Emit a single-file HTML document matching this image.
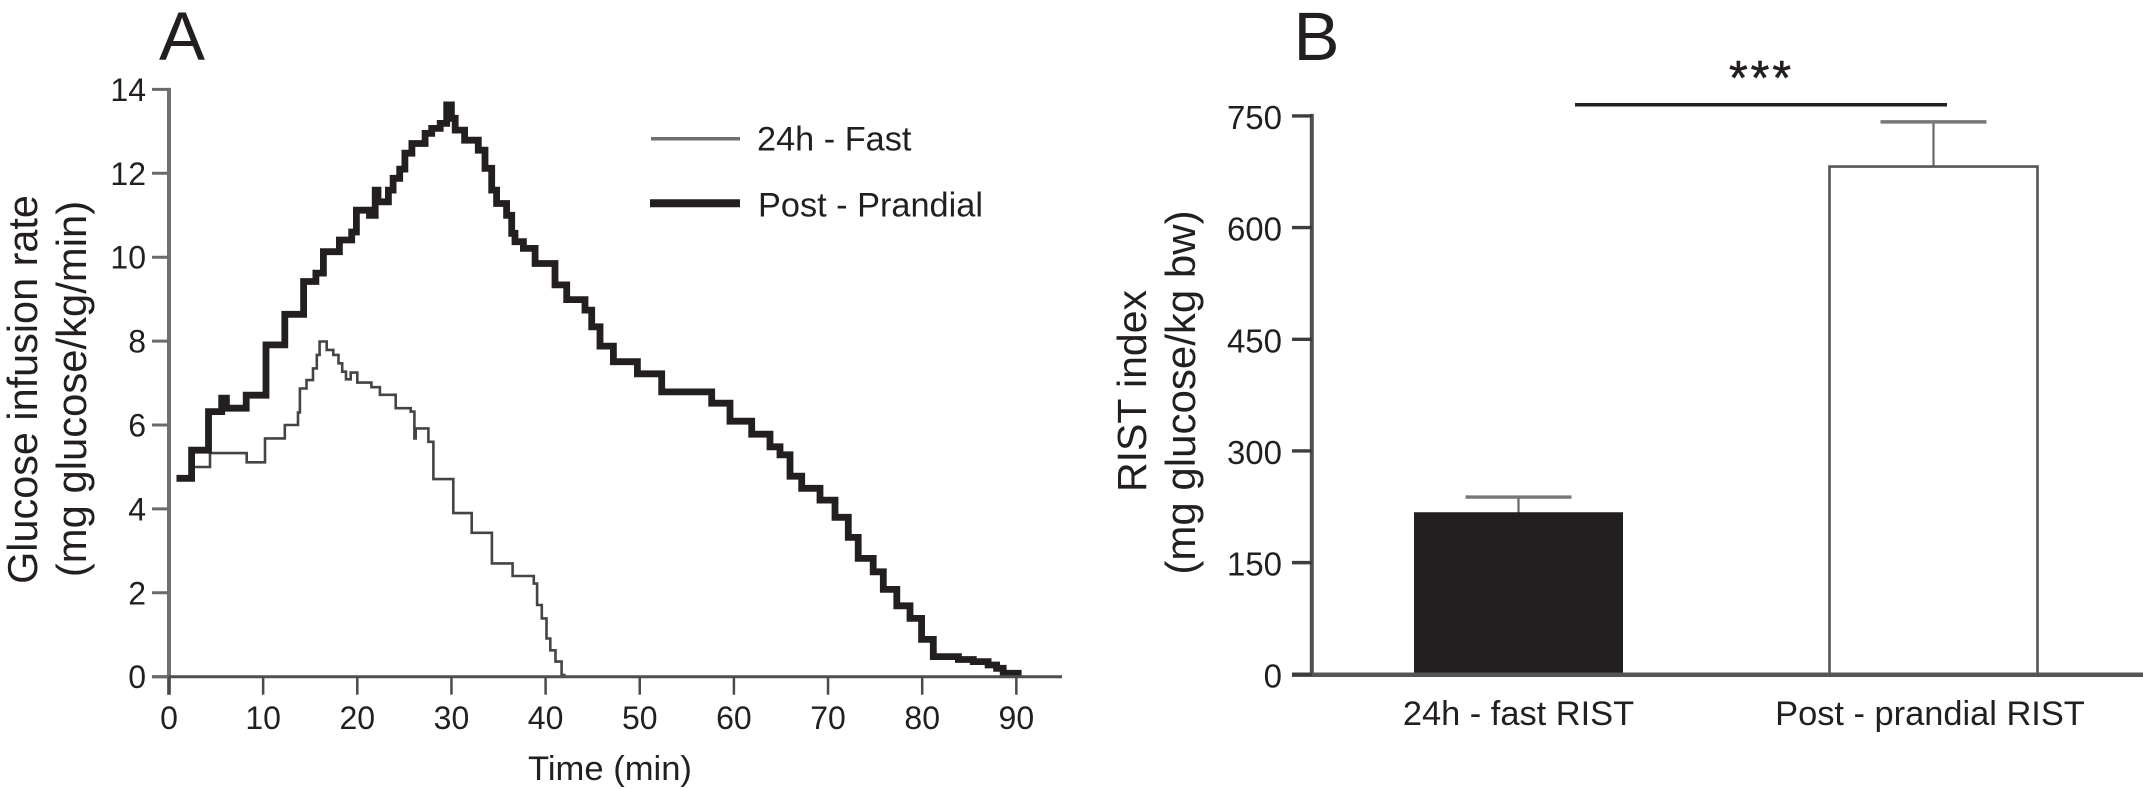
<!DOCTYPE html>
<html lang="en">
<head>
<meta charset="utf-8">
<title>Glucose infusion rate and RIST index</title>
<style>
html,body{margin:0;padding:0;background:#fff;}
body{width:2143px;height:789px;overflow:hidden;}
svg{display:block;}
text{font-family:"Liberation Sans",Arial,sans-serif;fill:#231f20;}
</style>
</head>
<body>
<svg id="figure" xmlns="http://www.w3.org/2000/svg" width="2143" height="789" viewBox="0 0 2143 789">
  <rect x="0" y="0" width="2143" height="789" fill="#ffffff"/>
  <text x="159" y="60" font-size="69">A</text>
  <text x="1293.5" y="60" font-size="69">B</text>

  <text transform="translate(37,389.5) rotate(-90)" text-anchor="middle" font-size="41.4">Glucose infusion rate</text>
  <text transform="translate(86,389) rotate(-90)" text-anchor="middle" font-size="41.8">(mg glucose/kg/min)</text>
  <text x="610" y="780" text-anchor="middle" font-size="34.6">Time (min)</text>

  <line x1="651" y1="138.7" x2="740" y2="138.7" stroke="#6f6f6f" stroke-width="3.5"/>
  <text x="757" y="150.7" font-size="34.3">24h - Fast</text>
  <line x1="650" y1="203.3" x2="740" y2="203.3" stroke="#231f20" stroke-width="8"/>
  <text x="758" y="216.7" font-size="34.3">Post - Prandial</text>

  <text transform="translate(1146,391) rotate(-90)" text-anchor="middle" font-size="41">RIST index</text>
  <text transform="translate(1195,392.5) rotate(-90)" text-anchor="middle" font-size="42">(mg glucose/kg bw)</text>

  <line x1="1575" y1="104.7" x2="1947" y2="104.7" stroke="#231f20" stroke-width="3.5"/>
  <text x="1761.5" y="94" text-anchor="middle" font-size="48" letter-spacing="3" stroke="#231f20" stroke-width="0.6">***</text>

  <g id="panel-a"></g>
  <g id="panel-b"></g>
</svg>
<script>
var timeTicks = [0, 10, 20, 30, 40, 50, 60, 70, 80, 90];
var rateTicks = [0, 2, 4, 6, 8, 10, 12, 14];
var fastTimes = [0.8, 2.6, 4.35, 8.25, 10.2, 12.3, 13.7, 13.9, 14.6, 15.3, 15.7, 16.0, 16.75, 17.45, 18.0, 18.4, 18.8, 19.3, 20.0, 21.5, 22.4, 24.08, 25.67, 26.06, 26.2, 27.55, 28.08, 30.2, 32.15, 34.3, 36.5, 38.75, 39.1, 39.6, 40.1, 40.5, 41.05, 41.7, 42.0];
var fastRates = [4.7, 5.0, 5.33, 5.11, 5.68, 6.0, 6.3, 6.87, 7.07, 7.35, 7.67, 7.99, 7.79, 7.67, 7.47, 7.27, 7.09, 7.25, 7.01, 6.9, 6.72, 6.4, 6.32, 5.68, 5.92, 5.6, 4.71, 3.9, 3.43, 2.70, 2.40, 2.22, 1.71, 1.39, 0.91, 0.63, 0.36, 0.04, 0.0];
var prandialTimes = [0.8, 2.4, 4.2, 5.6, 6.1, 8.2, 10.3, 12.3, 14.3, 15.6, 16.4, 18.1, 19.4, 19.9, 21.3, 21.9, 22.2, 23.3, 23.8, 24.5, 25.06, 25.8, 27.2, 27.9, 28.8, 29.5, 30.0, 30.4, 31.4, 32.85, 33.56, 34.27, 34.8, 35.86, 36.4, 36.75, 37.64, 38.88, 41.0, 42.24, 44.19, 44.9, 45.78, 47.2, 49.75, 52.33, 57.64, 59.59, 61.89, 63.83, 64.9, 65.96, 67.2, 69.14, 70.74, 72.15, 73.2, 74.8, 75.87, 77.3, 78.7, 79.94, 81.18, 83.84, 85.43, 87.0, 87.9, 88.6, 90.2];
var prandialRates = [4.73, 5.40, 6.32, 6.64, 6.40, 6.71, 7.91, 8.64, 9.42, 9.62, 10.13, 10.41, 10.6, 11.12, 11.0, 11.6, 11.32, 11.6, 11.88, 12.1, 12.48, 12.71, 12.95, 13.07, 13.19, 13.63, 13.31, 13.03, 12.79, 12.55, 12.12, 11.6, 11.28, 11.0, 10.57, 10.37, 10.21, 9.85, 9.34, 8.99, 8.74, 8.34, 7.88, 7.51, 7.22, 6.79, 6.52, 6.09, 5.78, 5.48, 5.29, 4.78, 4.49, 4.21, 3.80, 3.32, 2.82, 2.50, 2.08, 1.69, 1.39, 0.89, 0.48, 0.41, 0.36, 0.28, 0.2, 0.08, 0.02];

var ristTicks = [0, 150, 300, 450, 600, 750];
var ristCategories = ["24h - fast RIST", "Post - prandial RIST"];
var ristValues = [217, 682];
var ristUpperErrors = [238, 742];

var SVGNS = 'http://www.w3.org/2000/svg';

function xA(t) { return 169 + 9.415 * t; }
function yA(v) { return 676.7 - 41.95 * v; }
function yB(v) { return 674.3 - 0.7445 * v; }
function xB(i) { return 1518.5 + 415 * i; }
function xBLabel(i) { return 1518.5 + 411.5 * i; }

function shape(parent, tag, props) {
  var el = document.createElementNS(SVGNS, tag);
  for (var k in props) { el.setAttribute(k, props[k]); }
  parent.appendChild(el);
  return el;
}
function stepPath(ts, vs) {
  var d = 'M' + xA(ts[0]).toFixed(1) + ' ' + yA(vs[0]).toFixed(1);
  for (var i = 1; i < ts.length; i++) {
    d += 'H' + xA(ts[i]).toFixed(1) + 'V' + yA(vs[i]).toFixed(1);
  }
  return d;
}

var panelA = document.getElementById('panel-a');
var panelB = document.getElementById('panel-b');

var fastLine = shape(panelA, 'path', {d: stepPath(fastTimes, fastRates), fill: 'none', stroke: '#444444', 'stroke-width': 2.6, 'stroke-linejoin': 'miter'});



var prandialLine = shape(panelA, 'path', {d: stepPath(prandialTimes, prandialRates), fill: 'none', stroke: '#231f20', 'stroke-width': 6.8, 'stroke-linejoin': 'miter'});



var yAxisA = shape(panelA, 'line', {x1: xA(0), y1: yA(14) - 1.5, x2: xA(0), y2: yA(0) + 18, stroke: '#707070', 'stroke-width': 4});



var xAxisA = shape(panelA, 'line', {x1: 152, y1: yA(0), x2: 1062, y2: yA(0), stroke: '#4f4f4f', 'stroke-width': 3});



rateTicks.forEach(function (v) {
  var tick = shape(panelA, 'line', {x1: 152, y1: yA(v), x2: xA(0), y2: yA(v), stroke: '#6a6a6a', 'stroke-width': 3});
  
  
  var label = shape(panelA, 'text', {x: 146, y: yA(v) + 11.5, 'text-anchor': 'end', 'font-size': 32});
  label.textContent = String(v);
  
  
});

timeTicks.forEach(function (t) {
  var tick = shape(panelA, 'line', {x1: xA(t), y1: yA(0), x2: xA(t), y2: yA(0) + 18, stroke: '#4a4a4a', 'stroke-width': 2.5});
  
  
  var label = shape(panelA, 'text', {x: xA(t), y: 729, 'text-anchor': 'middle', 'font-size': 32});
  label.textContent = String(t);
  
  
});

var barWidth = 208;
ristValues.forEach(function (v, i) {
  var stem = shape(panelB, 'line', {x1: xB(i), y1: yB(v), x2: xB(i), y2: yB(ristUpperErrors[i]), stroke: '#666666', 'stroke-width': 2.2});
  
  
  var cap = shape(panelB, 'line', {x1: xB(i) - 53, y1: yB(ristUpperErrors[i]), x2: xB(i) + 53, y2: yB(ristUpperErrors[i]), stroke: '#777777', 'stroke-width': 3.4});
  
  
  var bar = shape(panelB, 'rect', {x: xB(i) - barWidth / 2, y: yB(v), width: barWidth, height: yB(0) - yB(v), fill: i === 0 ? '#231f20' : '#ffffff', stroke: i === 0 ? '#231f20' : '#555555', 'stroke-width': i === 0 ? 1 : 2.6});
  
  
  var label = shape(panelB, 'text', {x: xBLabel(i), y: 725, 'text-anchor': 'middle', 'font-size': 34.4});
  label.textContent = ristCategories[i];
  
  
});

var yAxisB = shape(panelB, 'line', {x1: 1311.8, y1: yB(750) - 2, x2: 1311.8, y2: yB(0), stroke: '#505050', 'stroke-width': 4});



var xAxisB = shape(panelB, 'line', {x1: 1292, y1: yB(0) + 0.5, x2: 2143, y2: yB(0) + 0.5, stroke: '#555555', 'stroke-width': 4.5});



ristTicks.forEach(function (v) {
  var tick = shape(panelB, 'line', {x1: 1292, y1: yB(v), x2: 1312, y2: yB(v), stroke: '#3d3d3d', 'stroke-width': 3.4});
  
  
  var label = shape(panelB, 'text', {x: 1282, y: yB(v) + 13, 'text-anchor': 'end', 'font-size': 33});
  label.textContent = String(v);
  
  
});
</script>
</body>
</html>
